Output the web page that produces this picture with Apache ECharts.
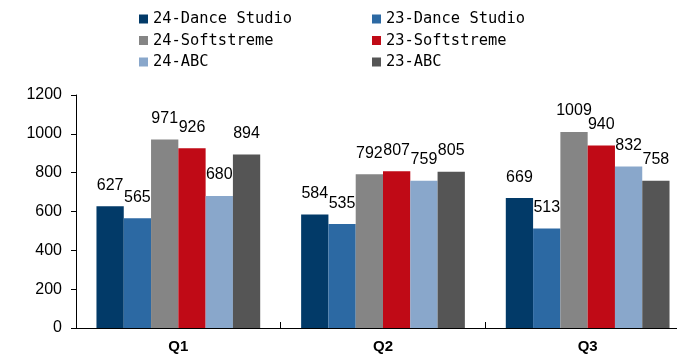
<!DOCTYPE html>
<html>
<head>
<meta charset="utf-8">
<script src="https://cdn.jsdelivr.net/npm/echarts@6/dist/echarts.min.js"></script>
<style>
  html, body { margin: 0; padding: 0; background: #fff; overflow: hidden; }
  /* the drawing surface is a bit wider than the window; the plot runs past its right edge */
  #chart { width: 700px; height: 357px; }
</style>
</head>
<body>
<div id="chart"></div>
<script>
// Quarterly figures per product, 2024 vs 2023
const categories = ['Q1', 'Q2', 'Q3'];
const seriesNames = ['24-Dance Studio', '23-Dance Studio', '24-Softstreme', '23-Softstreme', '24-ABC', '23-ABC'];
const dance24 = [627, 584, 669];
const dance23 = [565, 535, 513];
const soft24 = [971, 792, 1009];
const soft23 = [926, 807, 940];
const abc24 = [680, 759, 832];
const abc23 = [894, 805, 758];
const yTicks = [0, 200, 400, 600, 800, 1000, 1200];

const seriesValues = [dance24, dance23, soft24, soft23, abc24, abc23];
const colors = ['#023A68', '#2C69A3', '#858585', '#C00A16', '#89A7CB', '#555555'];

const chart = echarts.init(document.getElementById('chart'), null, { renderer: 'canvas' });

const legendText = { fontFamily: '"DejaVu Sans Mono", "Liberation Mono", monospace', fontSize: 15.4, color: '#000', lineHeight: 16 };
const legendBase = {
  orient: 'vertical', top: 11, padding: 0, itemGap: 5.5,
  itemWidth: 9, itemHeight: 9, icon: 'rect', textStyle: legendText,
  selectedMode: false
};

chart.setOption({
  animation: false,
  color: colors,
  legend: [
    Object.assign({ left: 139, data: [seriesNames[0], seriesNames[2], seriesNames[4]] }, legendBase),
    Object.assign({ left: 372, data: [seriesNames[1], seriesNames[3], seriesNames[5]] }, legendBase)
  ],
  grid: { left: 76, right: 10, top: 95, bottom: 29, containLabel: false },
  xAxis: {
    type: 'category',
    data: categories,
    axisLine: { lineStyle: { color: '#000', width: 1 } },
    axisTick: { show: true, inside: true, length: 6, lineStyle: { color: '#000' } },
    axisLabel: { color: '#000', fontSize: 15, fontWeight: 'bold', fontFamily: 'Liberation Sans, Arial, sans-serif', margin: 11 }
  },
  yAxis: {
    type: 'value',
    min: yTicks[0],
    max: yTicks[yTicks.length - 1],
    interval: 200,
    axisLine: { show: true, lineStyle: { color: '#000', width: 1 } },
    axisTick: { show: true, inside: false, length: 5, lineStyle: { color: '#000' } },
    axisLabel: { color: '#000', fontSize: 16, fontFamily: 'Liberation Sans, Arial, sans-serif', margin: 14, formatter: v => String(v) },
    splitLine: { show: false }
  },
  series: seriesNames.map((name, i) => ({
    name: name,
    type: 'bar',
    data: seriesValues[i],
    barGap: '0%',
    barCategoryGap: '20%',
    itemStyle: { color: colors[i] },
    label: {
      show: true,
      position: 'top',
      distance: 13,
      color: '#000',
      fontSize: 16,
      fontFamily: 'Liberation Sans, Arial, sans-serif'
    }
  }))
});
</script>
</body>
</html>
